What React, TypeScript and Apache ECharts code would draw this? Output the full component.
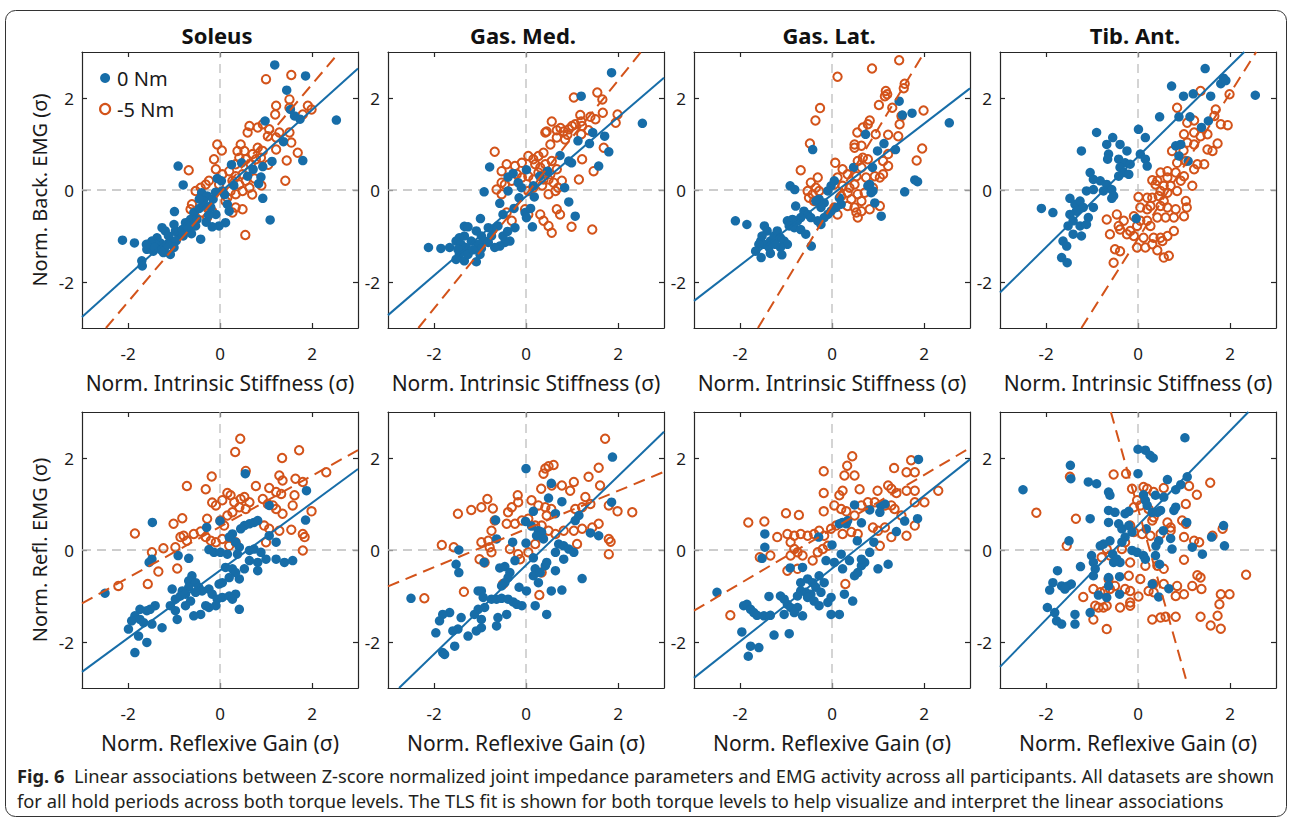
import React, { useEffect, useRef } from "react";
import * as echarts from "echarts";

// ---------- labels ----------
const muscles = ["Soleus", "Gas. Med.", "Gas. Lat.", "Tib. Ant."];
const xNames = ["Norm. Intrinsic Stiffness (σ)", "Norm. Reflexive Gain (σ)"];
const yNames = ["Norm. Back. EMG (σ)", "Norm. Refl. EMG (σ)"];
const seriesNames = ["0 Nm", "-5 Nm"];
const tickValues = [-2, 0, 2];
const axisMin = -3;
const axisMax = 3;
const captionLine1 =
  "Linear associations between Z-score normalized joint impedance parameters and EMG activity across all participants. All datasets are shown";
const captionLine2 =
  "for all hold periods across both torque levels. The TLS fit is shown for both torque levels to help visualize and interpret the linear associations";

// ---------- data: background EMG vs intrinsic stiffness ----------
const solBack0 = [[1.19,2.72],[1.86,2.48],[1.45,2.17],[2.53,1.52],[1.53,1.75],[1.62,1.61],[1.74,1.54],[0.98,1.5],[1.38,1.05],[1.8,0.64],[1.13,0.62],[0.93,0.51],[0.72,0.45],[0.47,0.59],[0.89,0.28],[0.84,0.14],[0.93,-0.18],[1.09,-0.65],[-0.91,0.52],[-0.8,0.11],[-0.06,0.25],[0.03,0.2],[-0.4,-0.06],[-0.28,-0.13],[-0.36,-0.24],[0.05,-0.02],[0.16,-0.31],[0.2,-0.46],[-0.2,-0.38],[-0.09,-0.53],[0.12,-0.71],[-0.02,-0.78],[-0.17,-0.8],[-0.99,-0.47],[-0.57,-0.49],[-0.64,-0.64],[-0.75,-0.71],[-0.5,-0.64],[-0.42,-1.07],[-0.9,-0.96],[-1.04,-1.11],[-1.19,-0.89],[-1.26,-0.82],[-1.37,-1.04],[-1.48,-1.11],[-1.55,-1.22],[-1.59,-1.29],[-1.45,-1.33],[-1.34,-1.25],[-1.08,-1.4],[-1.23,-1.36],[-1.7,-1.54],[-1.69,-1.65],[-2.12,-1.09],[-1.86,-1.15],[-0.97,-0.89],[-0.82,-0.86],[-0.68,-0.89],[-0.53,-0.78],[-1.12,-1.0],[-1.3,-1.15],[-1.41,-1.18],[-1.2,-1.25],[-0.95,-1.1],[-0.8,-1.0],[-0.62,-0.95],[-0.3,-0.7],[-0.25,-0.55],[-0.45,-0.4],[-0.35,-0.35],[-0.15,-0.2],[-0.1,-0.05],[-0.45,-0.2],[-0.7,-0.8],[-1.0,-0.75],[0.1,-0.1],[0.3,0.1],[0.6,0.3],[0.25,0.55],[-1.5,-1.15],[-1.42,-1.25],[-1.28,-1.3],[-1.15,-1.18],[-1.0,-1.25],[-1.6,-1.18]];
const solBack5 = [[1.0,2.41],[1.55,2.5],[1.51,1.97],[1.22,1.83],[1.2,1.64],[1.51,1.79],[1.91,1.83],[1.99,1.75],[1.8,1.64],[0.93,1.43],[0.82,1.36],[0.64,1.39],[0.6,1.25],[1.07,1.32],[1.04,1.17],[1.22,1.14],[1.29,1.25],[1.51,1.25],[1.55,1.03],[1.22,0.88],[1.69,0.81],[1.45,0.64],[1.42,0.2],[-0.06,0.99],[0.04,0.86],[-0.13,0.67],[-0.09,0.45],[-0.68,0.43],[0.45,0.99],[0.53,0.85],[0.42,0.7],[0.56,0.67],[0.71,0.78],[0.82,0.92],[0.93,0.85],[0.78,0.67],[0.67,0.56],[0.89,0.7],[0.34,0.56],[0.2,0.41],[0.34,0.3],[0.49,0.34],[0.64,0.41],[0.56,0.2],[0.42,0.12],[0.27,0.2],[0.64,0.05],[0.49,-0.02],[0.34,-0.09],[0.23,-0.02],[0.16,-0.17],[0.05,0.34],[-0.02,0.12],[-0.24,0.2],[-0.31,0.12],[-0.42,0.05],[-0.53,-0.02],[-0.61,-0.31],[-0.64,-0.42],[-0.39,-0.49],[-0.28,-0.6],[-0.17,-0.46],[0.34,-0.38],[0.49,-0.42],[0.27,-0.49],[0.55,-0.98],[0.12,-0.24],[0.75,0.25],[0.9,0.1],[0.7,-0.1],[0.38,0.85],[1.05,0.55]];
const gmBack0 = [[1.86,2.55],[1.2,2.04],[2.53,1.45],[1.45,1.25],[1.71,1.17],[1.13,1.07],[1.38,1.01],[1.8,0.83],[0.74,0.75],[0.93,0.63],[0.99,0.59],[1.58,0.52],[0.47,0.41],[0.84,0.05],[0.93,-0.26],[1.07,-0.57],[-0.79,0.5],[0.01,0.44],[-0.39,0.28],[-0.28,0.36],[-0.17,0.16],[0.16,0.09],[0.18,-0.15],[-0.39,-0.02],[-0.91,-0.04],[-0.15,-0.17],[-0.57,-0.29],[-0.26,-0.4],[-0.5,-0.53],[-0.02,-0.49],[0.01,-0.6],[0.14,-0.8],[-0.24,-0.82],[-0.99,-0.62],[-0.61,-0.78],[-0.72,-0.86],[-0.82,-0.82],[-0.35,-1.11],[-0.46,-1.14],[-0.57,-1.22],[-0.68,-1.25],[-1.34,-0.79],[-1.26,-0.8],[-1.08,-0.89],[-0.97,-1.0],[-0.9,-1.11],[-1.04,-1.18],[-1.19,-1.11],[-1.34,-1.0],[-1.45,-1.04],[-1.52,-1.11],[-1.41,-1.18],[-1.31,-1.25],[-1.38,-1.33],[-1.45,-1.4],[-1.52,-1.51],[-1.34,-1.54],[-1.08,-1.56],[-1.66,-1.25],[-1.85,-1.27],[-2.12,-1.25],[-1.48,-1.29],[-1.26,-1.4],[-0.97,-1.27],[-0.82,-1.14],[-0.5,-1.0],[-0.75,-1.0],[-1.15,-1.3],[-1.0,-1.4],[-0.4,-0.9],[0.1,-0.4],[-0.1,0.05],[0.3,0.3]];
const gmBack5 = [[1.04,2.01],[1.55,2.12],[1.66,1.97],[1.18,1.63],[1.2,1.49],[1.4,1.59],[1.51,1.54],[1.67,1.68],[1.99,1.64],[1.95,1.46],[0.56,1.49],[0.45,1.27],[0.42,1.25],[0.67,1.3],[0.82,1.27],[0.93,1.32],[1.0,1.39],[1.07,1.43],[1.22,1.39],[0.67,1.14],[0.85,1.1],[1.2,1.21],[0.53,0.99],[1.36,1.3],[1.69,0.92],[1.22,0.67],[1.47,0.41],[1.15,0.23],[-0.68,0.83],[-0.42,0.56],[-0.53,0.41],[0.05,0.74],[0.16,0.67],[0.27,0.74],[0.38,0.81],[-0.09,0.59],[-0.24,0.52],[0.2,0.56],[0.31,0.49],[0.42,0.56],[0.56,0.63],[0.67,0.45],[0.53,0.34],[0.38,0.23],[0.27,0.38],[0.05,0.3],[-0.09,0.27],[0.16,0.23],[0.49,0.23],[0.6,0.16],[0.78,0.2],[-0.53,0.16],[-0.64,0.01],[-0.53,-0.09],[-0.46,0.12],[-0.31,0.2],[0.05,-0.02],[0.16,0.05],[0.49,-0.09],[0.64,-0.02],[-0.42,-0.49],[-0.31,-0.67],[-0.02,-0.42],[0.05,-0.53],[0.31,-0.53],[0.38,-0.67],[0.49,-0.78],[0.56,-0.93],[0.67,-0.42],[0.74,-0.53],[0.99,-0.8],[1.44,-0.86],[0.9,1.2],[0.75,1.35],[0.35,0.1],[0.7,0.05],[-0.2,0.35]];
const glBack0 = [[1.46,1.93],[1.53,1.63],[1.74,1.67],[2.55,1.46],[0.73,1.21],[1.13,1.01],[0.99,0.85],[1.38,0.88],[0.47,0.49],[0.88,0.49],[-0.42,0.88],[1.8,0.22],[1.86,0.18],[1.58,-0.04],[0.82,0.12],[0.89,-0.02],[0.93,-0.28],[1.07,-0.57],[-0.91,0.09],[-0.81,0.01],[-0.02,0.09],[0.05,0.2],[-0.09,-0.02],[0.16,-0.17],[0.2,-0.31],[0.09,-0.38],[-0.02,-0.46],[-0.17,-0.28],[-0.28,-0.2],[-0.35,-0.24],[-0.24,-0.38],[-0.09,-0.53],[-0.17,-0.6],[-0.31,-0.67],[-0.24,-0.75],[-0.79,-0.35],[-0.61,-0.46],[-0.53,-0.53],[-0.46,-0.6],[-0.68,-0.6],[-0.75,-0.67],[-0.86,-0.64],[-0.97,-0.67],[-0.93,-0.78],[-0.82,-0.82],[-0.68,-0.86],[-0.57,-0.96],[-0.45,-1.22],[-1.47,-0.78],[-1.41,-0.89],[-1.52,-1.0],[-1.55,-1.11],[-1.48,-1.18],[-1.34,-1.11],[-1.26,-1.0],[-1.19,-0.89],[-1.12,-1.04],[-1.04,-1.11],[-0.97,-1.18],[-1.12,-1.25],[-1.23,-1.18],[-1.37,-1.25],[-1.59,-1.18],[-1.66,-1.33],[-1.54,-1.47],[-1.34,-1.38],[-1.09,-1.41],[-2.1,-0.67],[-1.85,-0.75],[0.78,0.09],[0.85,-0.06]];
const glBack5 = [[1.46,2.82],[0.87,2.64],[0.12,2.46],[1.58,2.31],[1.56,2.21],[1.17,2.15],[1.2,2.08],[1.15,2.04],[1.02,1.85],[1.31,1.79],[1.99,1.73],[1.51,1.61],[1.47,1.43],[-0.26,1.78],[-0.36,1.51],[0.82,1.51],[0.78,1.43],[0.67,1.36],[0.55,1.25],[0.95,1.21],[1.22,1.2],[1.44,1.17],[-0.48,1.01],[0.49,0.99],[0.64,0.96],[0.49,0.92],[1.22,0.78],[1.96,0.9],[1.84,0.64],[0.07,0.59],[-0.68,0.43],[0.67,0.7],[0.78,0.67],[0.56,0.63],[1.11,0.63],[1.22,0.52],[0.23,0.45],[0.34,0.34],[0.53,0.3],[0.64,0.49],[0.74,0.27],[0.93,0.3],[1.04,0.27],[1.11,0.34],[-0.31,0.27],[-0.46,0.16],[-0.35,0.05],[-0.53,-0.02],[-0.42,-0.09],[-0.28,-0.02],[-0.5,-0.17],[-0.39,-0.24],[0.12,0.27],[0.05,0.12],[0.23,0.09],[0.38,0.05],[0.49,0.12],[0.34,-0.06],[0.2,-0.13],[0.42,-0.2],[0.56,-0.09],[0.64,-0.24],[0.49,-0.38],[0.34,-0.35],[0.53,-0.49],[0.56,-0.6],[0.64,-0.46],[0.82,-0.42],[1.04,-0.35],[0.71,-0.06],[0.89,0.05],[0.12,-0.53],[0.05,-0.38]];
const taBack0 = [[1.46,2.64],[1.86,2.43],[1.8,2.31],[1.91,2.38],[0.73,2.26],[0.99,2.04],[1.2,2.09],[1.58,2.04],[2.55,2.06],[0.47,1.59],[0.89,1.59],[1.13,1.59],[1.53,1.5],[1.38,1.36],[0.01,1.32],[0.16,1.14],[-0.9,1.25],[-1.23,0.85],[-0.68,0.99],[-0.55,1.14],[-0.64,0.78],[-0.39,0.99],[-0.24,0.85],[0.82,0.96],[0.93,0.99],[0.89,0.74],[1.09,0.63],[0.05,0.78],[0.16,0.67],[0.2,0.52],[-0.66,0.67],[-0.42,0.67],[-0.28,0.59],[-0.17,0.56],[-0.39,0.49],[-0.31,0.38],[-0.2,0.34],[-0.42,0.3],[-1.04,0.38],[-0.97,0.23],[-0.82,0.2],[-0.68,0.12],[-0.57,0.01],[-1.12,-0.02],[-0.97,0.01],[-0.75,-0.02],[-0.53,-0.13],[-0.57,-0.18],[-1.48,-0.18],[-1.37,-0.31],[-1.26,-0.24],[-1.19,-0.38],[-0.97,-0.38],[-1.08,-0.6],[-1.34,-0.46],[-1.48,-0.53],[-1.41,-0.67],[-1.26,-0.78],[-1.12,-0.75],[-1.52,-0.78],[-1.41,-0.96],[-1.23,-1.0],[-1.63,-1.11],[-1.55,-1.22],[-1.66,-1.47],[-1.54,-1.58],[-2.1,-0.4],[-1.85,-0.49],[-0.04,-0.62]];
const taBack5 = [[1.36,2.15],[1.99,2.08],[0.85,1.79],[1.69,1.75],[1.66,1.61],[1.22,1.51],[1.07,1.46],[1.8,1.43],[1.95,1.41],[1.0,1.21],[1.22,1.25],[1.36,1.17],[1.51,1.21],[1.07,1.03],[1.22,0.99],[1.73,1.01],[0.74,0.85],[0.99,0.86],[1.51,0.88],[1.62,0.85],[0.85,0.59],[1.04,0.63],[1.29,0.56],[1.44,0.56],[1.22,0.45],[0.64,0.41],[0.49,0.38],[0.82,0.38],[1.0,0.3],[0.93,0.2],[0.64,0.27],[0.42,0.2],[0.31,0.21],[0.38,0.12],[0.56,0.09],[0.71,0.09],[0.49,-0.02],[0.64,-0.06],[0.85,-0.02],[1.18,0.09],[0.01,-0.15],[0.2,-0.17],[0.31,-0.17],[0.45,-0.13],[0.56,-0.24],[0.27,-0.35],[0.05,-0.38],[0.2,-0.42],[0.49,-0.35],[0.64,-0.38],[0.82,-0.42],[1.04,-0.24],[1.06,-0.38],[1.0,-0.57],[0.78,-0.6],[0.6,-0.6],[0.42,-0.6],[0.2,-0.67],[0.27,-0.78],[0.05,-0.67],[-0.09,-0.57],[-0.02,-0.78],[-0.31,-0.67],[-0.46,-0.53],[-0.68,-0.64],[-0.42,-0.78],[-0.61,-0.96],[-0.39,-0.86],[-0.24,-0.96],[-0.17,-0.89],[-0.09,-1.0],[0.12,-1.04],[0.34,-1.04],[0.49,-1.04],[0.64,-1.0],[0.78,-0.89],[0.53,-1.11],[0.31,-1.18],[0.16,-1.25],[-0.02,-1.25],[-0.5,-1.29],[-0.39,-1.33],[-0.53,-1.58],[0.56,-1.47],[0.67,-1.43],[0.42,-1.31]];

// ---------- data: reflex EMG vs reflexive gain ----------
const solRefl0 = [[0.55,1.66],[1.88,1.29],[1.07,0.97],[1.86,0.65],[-1.47,0.6],[0,0.63],[-0.29,0.49],[0.27,0.35],[0.2,0.28],[0.34,0.17],[0.42,0.06],[0.38,-0.09],[0.45,0.46],[0.53,0.53],[0.64,0.57],[0.74,0.6],[0.82,0.64],[1.07,0.31],[1.22,0.17],[-0.24,0.01],[-0.13,-0.05],[0.01,-0.05],[0.16,-0.09],[0.64,-0.01],[0.74,0.02],[0.89,-0.05],[1.0,-0.2],[1.22,-0.2],[1.4,-0.27],[1.58,-0.23],[0.82,-0.27],[0.64,-0.23],[0.53,-0.41],[0.82,-0.45],[0.42,-0.63],[-0.91,-0.12],[-1.48,-0.2],[-1.54,-0.27],[-0.68,-0.18],[0.12,-0.38],[0.27,-0.41],[0.34,-0.49],[0.2,-0.6],[0.05,-0.71],[-0.02,-0.74],[-0.61,-0.56],[-0.68,-0.67],[-0.53,-0.71],[-0.46,-0.81],[-0.39,-0.89],[-0.53,-0.92],[-0.68,-0.81],[-0.82,-0.89],[-1.04,-0.85],[-0.97,-1.07],[-0.86,-1.0],[-0.75,-0.96],[-0.64,-1.11],[-0.75,-1.21],[-0.97,-1.32],[-1.08,-1.21],[-0.93,-1.51],[-0.24,-0.85],[-0.17,-0.96],[-0.06,-1.07],[0.05,-1.03],[0.2,-1.0],[0.34,-0.96],[0.27,-1.07],[-0.09,-1.21],[-0.24,-1.25],[-0.31,-1.21],[-0.42,-1.4],[-0.57,-1.43],[0.42,-1.29],[-1.41,-1.21],[-1.52,-1.29],[-1.59,-1.32],[-1.74,-1.29],[-1.85,-1.43],[-1.92,-1.54],[-1.74,-1.51],[-1.66,-1.58],[-1.48,-1.61],[-1.26,-1.69],[-1.99,-1.72],[-1.77,-1.87],[-1.59,-2.01],[-1.85,-2.23],[-2.5,-0.94]];
const solRefl5 = [[0.44,2.42],[0.33,2.13],[1.72,2.17],[1.35,2.0],[0.56,1.72],[2.31,1.69],[1.29,1.62],[1.36,1.51],[1.64,1.55],[1.8,1.48],[-0.18,1.6],[-0.72,1.39],[-0.31,1.32],[0.16,1.24],[0.23,1.19],[0.78,1.39],[1.07,1.35],[1.22,1.26],[1.33,1.22],[-0.17,1.03],[-0.09,0.97],[0.05,1.08],[0.31,1.04],[0.45,1.11],[0.53,1.15],[0.64,1.04],[0.56,0.89],[0.42,0.93],[0.27,0.82],[0.16,0.75],[0.93,1.11],[1.04,1.0],[1.15,0.97],[1.22,0.89],[1.36,0.79],[1.58,0.97],[1.62,1.19],[1.99,0.84],[-0.82,0.69],[-1.01,0.57],[-0.28,0.68],[0.01,0.64],[0.09,0.53],[-1.85,0.36],[-1.48,-0.05],[-1.34,-0.47],[-1.23,0.04],[-0.97,0.06],[-0.79,0.31],[-0.72,0.2],[-0.86,0.28],[-0.57,0.35],[-0.42,0.4],[-0.31,0.28],[-0.2,0.2],[-0.09,0.17],[0.05,0.24],[0.2,0.09],[0.34,0.17],[-0.93,-0.4],[-1.57,-0.74],[-2.21,-0.78],[0.96,0.53],[1.07,0.46],[1.29,0.42],[1.55,0.44],[1.8,0.35],[1.84,0.28],[1.8,-0.01],[1.0,0.17]];
const gmRefl0 = [[0,1.77],[1.88,2.02],[0.55,1.45],[0.49,1.13],[0.78,1.05],[0.64,0.79],[1.86,1.04],[1.15,0.75],[1.07,0.64],[-0.66,0.65],[0.16,0.84],[-0.01,0.62],[0.12,0.52],[0.27,0.42],[0.34,0.39],[0.38,0.24],[0.23,0.31],[-0.64,0.24],[-0.29,0.17],[0,0.15],[1.4,0.37],[1.58,0.31],[-1.46,0],[-1.52,-0.31],[-1.46,-0.49],[-0.91,-0.27],[-0.24,-0.23],[-0.46,-0.36],[-0.57,-0.39],[-0.35,-0.49],[-0.39,-0.6],[-0.46,-0.71],[-0.53,-0.78],[0.16,-0.17],[0.2,-0.41],[0.16,-0.56],[0.31,-0.49],[0.42,-0.34],[0.45,-0.27],[0.64,-0.05],[0.71,0.13],[0.82,0.09],[0.93,0.02],[1.04,-0.05],[0.82,-0.2],[0.64,-0.45],[0.55,-0.89],[0.78,-0.87],[1.22,-0.62],[-0.15,-0.81],[0.01,-0.89],[0.2,-1.21],[0.45,-1.4],[0.27,-0.71],[-1.04,-0.89],[-0.97,-0.89],[-0.93,-1.03],[-0.75,-1.07],[-0.64,-1.07],[-0.53,-1.05],[-0.39,-1.07],[-0.28,-1.13],[-0.2,-1.18],[-0.09,-1.21],[-0.9,-1.25],[-1.04,-1.29],[-1.12,-1.4],[-0.97,-1.51],[-0.61,-1.47],[-0.64,-1.65],[-0.42,-1.4],[-0.97,-1.69],[-1.08,-1.76],[-1.26,-1.87],[-1.41,-1.47],[-1.48,-1.72],[-1.59,-1.76],[-1.66,-1.36],[-1.81,-1.4],[-1.88,-1.54],[-1.96,-1.8],[-1.55,-2.09],[-1.81,-2.23],[-1.77,-2.27],[-2.5,-1.05]];
const gmRefl5 = [[1.72,2.42],[0.6,1.85],[0.49,1.82],[0.42,1.77],[0.38,1.66],[1.58,1.79],[1.36,1.59],[1.61,1.4],[1.04,1.48],[0.96,1.29],[0.78,1.4],[0.56,1.4],[0.33,1.33],[-0.18,1.19],[-0.17,1.04],[0.12,1.08],[0.27,0.97],[0.42,0.93],[0.55,0.89],[0.45,0.75],[-0.84,1.11],[-0.97,0.93],[-1.19,0.87],[-1.48,0.79],[-0.72,0.9],[-0.31,0.93],[-0.39,0.82],[1.29,1.15],[1.4,1.0],[1.22,0.93],[1.07,0.89],[1.8,0.97],[1.99,0.84],[2.31,0.82],[-0.68,0.64],[-0.42,0.57],[-0.24,0.57],[-0.09,0.64],[0.05,0.68],[0.2,0.53],[0.34,0.53],[0.49,0.42],[0.64,0.35],[0.82,0.42],[1.04,0.42],[-0.75,0.42],[-0.82,0.2],[-0.97,0.17],[-0.79,0.06],[-0.75,-0.05],[-0.9,-0.27],[-1.01,-0.2],[1.58,0.57],[1.44,0.49],[1.22,0.46],[1.8,0.24],[1.84,0.18],[1.8,-0.09],[1.11,0.13],[-0.35,0.02],[-0.17,-0.09],[-0.13,-0.2],[0.05,-0.05],[0.2,0.13],[0.34,0.28],[-1.83,0.11],[-1.57,0.06],[-1.35,-0.91],[-2.21,-1.05],[0.29,-0.98],[-0.5,-0.74],[0.34,-0.49]];
const glRefl0 = [[1.88,1.97],[0.49,0.98],[0.82,0.87],[1.06,0.97],[1.15,1.0],[1.04,0.82],[0.16,0.57],[0.23,0.6],[0.34,0.64],[0.31,0.57],[0.64,0.59],[1.58,0.63],[1.86,0.68],[1.4,0.4],[-0.29,0.28],[0,0.11],[0.55,0.2],[0.91,0.17],[-1.46,0.35],[-1.46,0.06],[-1.52,-0.18],[-0.64,-0.38],[-0.91,-0.39],[-0.13,-0.23],[0.05,-0.27],[0.2,-0.09],[0.23,-0.41],[0.38,-0.23],[0.49,-0.56],[0.56,-0.49],[0.64,-0.34],[0.71,-0.27],[0.82,-0.05],[0.64,-0.2],[1.0,-0.41],[1.22,-0.31],[-0.53,-0.63],[-0.68,-0.71],[-0.42,-0.71],[-0.35,-0.81],[-0.28,-0.56],[-0.17,-0.71],[-0.24,-0.92],[-0.46,-0.96],[-0.57,-0.92],[-0.68,-0.89],[-0.75,-1.0],[-0.53,-1.03],[-0.39,-1.11],[-0.28,-1.21],[-0.09,-1.14],[-0.02,-1.03],[0.27,-0.96],[0.45,-1.11],[-0.02,-1.4],[0.16,-1.4],[-1.37,-1.01],[-1.12,-1.0],[-1.04,-1.07],[-0.97,-1.18],[-0.9,-1.25],[-1.04,-1.4],[-0.75,-1.25],[-0.64,-1.43],[-0.82,-1.36],[-1.92,-1.21],[-1.85,-1.18],[-1.77,-1.29],[-1.7,-1.36],[-1.63,-1.42],[-1.48,-1.43],[-1.34,-1.42],[-1.96,-1.78],[-1.26,-1.85],[-0.93,-1.82],[-1.77,-2.09],[-1.59,-2.12],[-1.82,-2.31],[-2.5,-0.92]];
const glRefl5 = [[0.44,2.04],[0.33,1.83],[0.49,1.62],[0.27,1.62],[-0.18,1.71],[1.72,1.95],[1.62,1.69],[1.8,1.69],[1.35,1.78],[2.31,1.29],[-0.18,1.24],[-0.18,0.84],[0.6,1.32],[0.23,1.29],[0.16,1.19],[0.99,1.29],[1.22,1.4],[1.29,1.33],[1.4,1.24],[1.62,1.29],[1.8,1.29],[0.05,0.97],[0.2,0.89],[0.31,0.84],[0.49,0.75],[0.64,0.97],[0.78,1.04],[0.93,1.04],[1.15,0.97],[1.29,0.97],[1.36,0.89],[2.01,1.04],[1.8,1.04],[-1.0,0.8],[-0.72,0.76],[-1.82,0.6],[-1.47,0.62],[-0.97,0.35],[-0.82,0.31],[-0.68,0.35],[-1.19,0.28],[-0.53,0.31],[-0.39,0.35],[-0.28,0.42],[-0.17,0.31],[-0.02,0.46],[0.09,0.53],[0.23,0.35],[0.42,0.39],[0.56,0.35],[0.89,0.49],[1.0,0.42],[1.15,0.49],[1.51,0.75],[1.8,0.53],[1.62,0.31],[1.29,0.28],[1.04,0.09],[-0.9,0.17],[-0.82,0.02],[-0.75,-0.05],[-0.64,-0.12],[-0.9,-0.12],[-0.42,-0.23],[-0.31,-0.05],[-0.2,0.02],[-0.09,0.09],[-1.57,-0.16],[-1.34,-0.12],[-0.97,-0.45],[-0.75,-0.41],[0.29,-0.74],[-2.21,-1.42]];
const taRefl0 = [[1.02,2.44],[0,2.19],[0.16,2.17],[0.26,2.06],[0.33,2.0],[-1.47,1.84],[-1.46,1.55],[0,1.66],[-2.5,1.31],[-1.08,1.48],[-0.9,1.44],[-0.64,1.26],[-0.61,1.19],[0.64,1.53],[1.07,1.59],[0.82,1.31],[0.93,1.42],[0.12,1.2],[0.16,1.08],[0.2,0.97],[0.38,1.19],[0.56,1.15],[0.42,0.82],[0.49,0.86],[0.31,0.82],[0.82,0.93],[0.78,0.86],[-1.04,0.68],[-0.64,0.86],[-0.5,0.82],[-0.28,0.79],[-0.2,0.84],[-0.64,0.6],[-0.42,0.57],[-0.35,0.46],[-0.2,0.53],[-0.13,0.39],[-0.28,0.28],[-0.35,0.17],[-0.61,0.2],[-0.75,0.13],[-0.82,0.09],[-0.55,-0.09],[-0.46,-0.2],[-0.39,-0.27],[-0.53,-0.27],[0.18,0.46],[0.55,0.42],[0.45,0.2],[0.71,0.25],[0.74,0.02],[0.39,0.09],[-0.13,-0.01],[-0.02,-0.05],[0.12,-0.12],[0.16,-0.2],[0.38,-0.12],[0.47,-0.31],[1.06,0.6],[1.18,0.06],[1.4,-0.09],[1.6,0.28],[1.86,0.53],[1.88,0.09],[-1.5,0.2],[-1.01,-0.12],[-0.97,-0.27],[-0.93,-0.41],[-0.97,-0.56],[-1.25,-0.36],[-1.75,-0.45],[-1.85,-0.71],[-1.66,-0.78],[-1.52,-0.78],[-1.45,-0.74],[-1.92,-0.87],[-1.59,-0.85],[-0.64,-0.6],[-0.64,-0.78],[-0.4,-0.58],[-0.4,-0.96],[0.31,-0.74],[0.67,-0.84],[0.45,-1.02],[-0.68,-1.03],[-0.86,-0.98],[-1.97,-1.25],[-1.81,-1.36],[-1.77,-1.54],[-1.66,-1.61],[-1.37,-1.4],[-1.37,-1.61],[-1.04,-1.36]];
const taRefl5 = [[-1.48,1.59],[-2.21,0.81],[-1.35,0.68],[-1.55,0.09],[-0.53,1.64],[-0.26,1.66],[-0.13,1.33],[0.12,1.37],[0.2,1.33],[0.34,1.26],[0.56,1.35],[1.11,1.39],[1.28,1.2],[1.57,1.46],[-0.02,1.08],[-0.09,0.93],[0.05,0.97],[0.23,0.89],[0.34,0.71],[0.31,0.64],[0.64,0.6],[0.71,0.49],[0.96,0.64],[1.04,0.57],[1.04,1.0],[-0.17,0.53],[-0.09,0.39],[0.09,0.35],[0.27,0.31],[0.49,0.35],[0.71,0.42],[1.0,0.28],[1.22,0.2],[1.33,0.17],[1.62,0.31],[1.84,0.46],[-0.28,0.17],[-0.35,0.02],[-0.68,0.02],[-0.79,-0.16],[-0.61,-0.12],[-0.17,-0.27],[0.16,-0.34],[0.42,-0.34],[0.56,-0.41],[1.0,-0.21],[-0.2,-0.56],[-0.64,-0.63],[-0.5,-0.78],[0.05,-0.63],[0.33,-0.74],[0.56,-0.74],[0.85,-0.78],[1.18,-0.78],[1.29,-0.55],[1.36,-0.6],[1.38,-0.85],[2.35,-0.54],[-1.19,-1.02],[-0.97,-0.85],[-0.82,-0.92],[-0.72,-0.89],[-0.61,-0.85],[-0.28,-0.85],[-0.17,-0.89],[0.01,-1.01],[0.23,-0.89],[0.34,-0.92],[0.82,-1.0],[1.0,-0.96],[1.8,-0.96],[1.99,-0.96],[1.77,-1.18],[-0.93,-1.21],[-0.86,-1.25],[-0.75,-1.25],[-0.68,-1.21],[-0.39,-1.25],[-0.17,-1.21],[-0.17,-1.14],[-0.97,-1.51],[-0.68,-1.72],[0.31,-1.51],[0.49,-1.47],[0.6,-1.45],[0.82,-1.45],[1.36,-1.45],[1.73,-1.43],[1.58,-1.64],[1.8,-1.71]];

// ---------- TLS fit line end points ----------
const fit0Nm = [
  [[-3, -2.76], [3, 2.64]],
  [[-3, -2.72], [3, 2.44]],
  [[-3, -2.41], [3, 2.21]],
  [[-3, -2.23], [2.31, 3]],
  [[-3, -2.65], [3, 1.76]],
  [[-2.76, -3], [3, 2.57]],
  [[-3, -2.78], [3, 1.97]],
  [[-3, -2.54], [2.4, 3]],
];
const fit5Nm = [
  [[-2.48, -3], [2.52, 2.91]],
  [[-2.34, -3], [2.5, 3]],
  [[-1.61, -3], [2.01, 3]],
  [[-1.23, -3], [2.57, 3]],
  [[-3, -1.16], [3, 2.17]],
  [[-3, -0.79], [3, 1.7]],
  [[-3, -1.32], [3, 2.22]],
  [[-0.59, 3], [1.04, -2.8]],
];

const data0Nm = [solBack0, gmBack0, glBack0, taBack0, solRefl0, gmRefl0, glRefl0, taRefl0];
const data5Nm = [solBack5, gmBack5, glBack5, taBack5, solRefl5, gmRefl5, glRefl5, taRefl5];

// ---------- style ----------
const BLUE = "#176DA8";
const ORANGE = "#D3531A";
const INK = "#1a1a1a";
const FONT = "'Noto Sans', 'Open Sans', sans-serif";

function buildOption() {
  const grid: any[] = [];
  const xAxis: any[] = [];
  const yAxis: any[] = [];
  const series: any[] = [];
  const axisLine = { show: true, onZero: false, lineStyle: { color: "#262626", width: 1.2 } };
  const axisTick = { show: true, inside: true, length: 5, customValues: tickValues, lineStyle: { color: "#262626", width: 1.2 } };
  for (let i = 0; i < 8; i++) {
    const r = Math.floor(i / 4);
    const c = i % 4;
    grid.push({ left: 82 + c * 306, top: r === 0 ? 52 : 412, width: 276, height: 276 });
    xAxis.push({
      gridIndex: i, type: "value", position: "bottom", min: axisMin, max: axisMax,
      axisLine, axisTick, splitLine: { show: false },
      axisLabel: { customValues: tickValues, fontSize: 17, color: INK, margin: 17, fontFamily: FONT },
      name: xNames[r], nameLocation: "middle", nameGap: 44,
      nameTextStyle: { fontSize: 21, color: INK, fontFamily: FONT },
    });
    xAxis.push({
      gridIndex: i, type: "value", position: "top", min: axisMin, max: axisMax,
      axisLine, axisTick, splitLine: { show: false }, axisLabel: { show: false },
    });
    yAxis.push({
      gridIndex: i, type: "value", position: "left", min: axisMin, max: axisMax,
      axisLine, axisTick, splitLine: { show: false },
      axisLabel: { customValues: tickValues, fontSize: 17, color: INK, margin: 8, fontFamily: FONT },
      name: c === 0 ? yNames[r] : "", nameLocation: "middle", nameGap: 33, nameRotate: 90,
      nameTextStyle: { fontSize: 20, color: INK, fontFamily: FONT },
    });
    yAxis.push({
      gridIndex: i, type: "value", position: "right", min: axisMin, max: axisMax,
      axisLine, axisTick, splitLine: { show: false }, axisLabel: { show: false },
    });
    const xi = 2 * i;
    const zeroStyle = { color: "#BDBDBD", width: 1.3, type: [9, 6] };
    series.push({ type: "line", xAxisIndex: xi, yAxisIndex: xi, data: [[0, axisMin], [0, axisMax]], symbol: "none", lineStyle: zeroStyle, silent: true, z: 1 });
    series.push({ type: "line", xAxisIndex: xi, yAxisIndex: xi, data: [[axisMin, 0], [axisMax, 0]], symbol: "none", lineStyle: zeroStyle, silent: true, z: 1 });
    series.push({
      name: seriesNames[1], type: "scatter", xAxisIndex: xi, yAxisIndex: xi, data: data5Nm[i],
      symbol: "circle", symbolSize: 8.4,
      itemStyle: { color: "transparent", borderColor: ORANGE, borderWidth: 2, opacity: 1 }, z: 2,
    });
    series.push({
      name: seriesNames[0], type: "scatter", xAxisIndex: xi, yAxisIndex: xi, data: data0Nm[i],
      symbol: "circle", symbolSize: 9.5, itemStyle: { color: BLUE, opacity: 1 }, z: 3,
    });
    series.push({ type: "line", xAxisIndex: xi, yAxisIndex: xi, data: fit0Nm[i], symbol: "none", lineStyle: { color: BLUE, width: 2 }, silent: true, z: 4 });
    series.push({ type: "line", xAxisIndex: xi, yAxisIndex: xi, data: fit5Nm[i], symbol: "none", lineStyle: { color: ORANGE, width: 2, type: [12, 7] }, silent: true, z: 4 });
  }

  const graphic: any[] = [
    { type: "rect", silent: true, z: -10, shape: { x: 5.5, y: 10.5, width: 1281, height: 806, r: 10 }, style: { fill: "none", stroke: "#333", lineWidth: 1 } },
  ];
  muscles.forEach((m, k) => {
    graphic.push({
      type: "text", x: 217 + 306 * k, y: 35, silent: true,
      style: { text: m, fontSize: 22, fontWeight: "bold", fontFamily: FONT, fill: "#111", align: "center", verticalAlign: "middle" },
    });
  });
  graphic.push({
    type: "text", x: 17, y: 775, scaleX: 0.99, silent: true,
    style: {
      text: "{b|Fig. 6}  " + captionLine1,
      fontSize: 18.5, fontFamily: FONT, fill: "#231f20", verticalAlign: "middle",
      rich: { b: { fontSize: 18.5, fontFamily: FONT, fontWeight: "bold", fill: "#231f20" } },
    },
  });
  graphic.push({
    type: "text", x: 17, y: 800, scaleX: 0.99, silent: true,
    style: { text: captionLine2, fontSize: 18.5, fontFamily: FONT, fill: "#231f20", verticalAlign: "middle" },
  });

  return {
    animation: false,
    backgroundColor: "#ffffff",
    textStyle: { fontFamily: FONT },
    grid, xAxis, yAxis, series, graphic,
    legend: {
      data: [
        { name: seriesNames[0], icon: "circle" },
        { name: seriesNames[1], icon: "circle", itemStyle: { color: "transparent", borderColor: ORANGE, borderWidth: 2.2 } },
      ],
      orient: "vertical", left: 94, top: 63, itemWidth: 10, itemHeight: 10, itemGap: 11,
      selectedMode: false,
      textStyle: { fontSize: 20, color: INK, fontFamily: FONT, padding: [0, 0, 0, 2] },
    },
  };
}

export default function App() {
  const ref = useRef<HTMLDivElement>(null);
  useEffect(() => {
    if (!ref.current) return;
    const chart = echarts.init(ref.current, undefined, { renderer: "svg" });
    chart.setOption(buildOption() as any);
    return () => chart.dispose();
  }, []);
  return <div ref={ref} style={{ position: "absolute", left: 0, top: 0, width: 1290, height: 822, background: "#fff" }} />;
}
